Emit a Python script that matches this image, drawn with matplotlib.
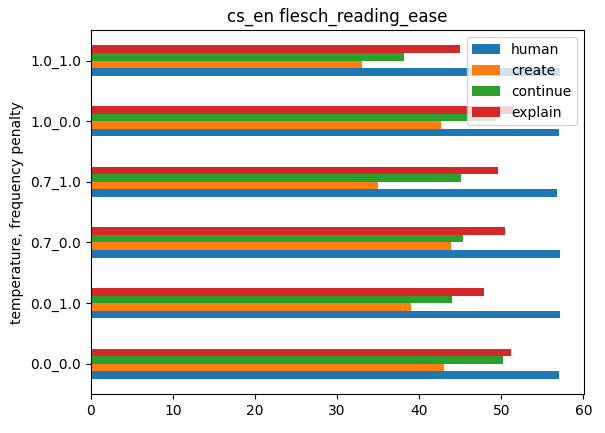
import matplotlib
matplotlib.use('Agg')
import matplotlib.pyplot as plt
import pandas as pd

categories = ['0.0_0.0', '0.0_1.0', '0.7_0.0', '0.7_1.0', '1.0_0.0', '1.0_1.0']
human = [57.0, 57.1, 57.1, 56.8, 57.0, 57.2]
create = [43.0, 39.0, 43.9, 35.0, 42.7, 33.0]
continue_ = [50.2, 44.0, 45.3, 45.1, 49.4, 38.2]
explain = [51.2, 47.9, 50.4, 49.6, 51.5, 45.0]

df = pd.DataFrame({'human': human, 'create': create,
                   'continue': continue_, 'explain': explain},
                  index=categories)
df.index.name = 'temperature, frequency penalty'

fig, ax = plt.subplots(figsize=(6.05, 4.33), dpi=100)
fig.subplots_adjust(left=0.15, right=0.965, top=0.93, bottom=0.09)
df.plot.barh(ax=ax)
ax.set_title('cs_en flesch_reading_ease')
ax.legend(loc='upper right')
fig.savefig('out.png', dpi=100)
